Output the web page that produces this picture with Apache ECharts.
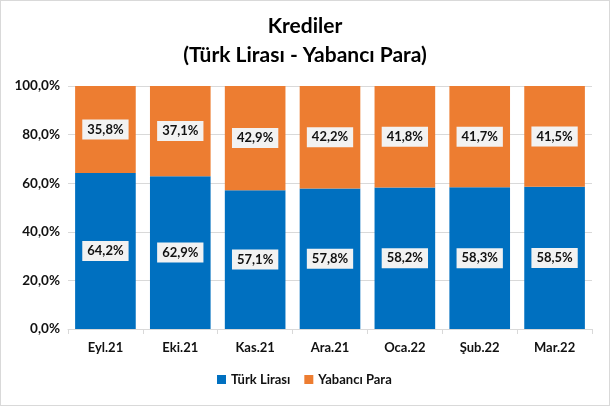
<!DOCTYPE html>
<html>
<head>
<meta charset="utf-8">
<script src="https://cdn.jsdelivr.net/npm/echarts@6/dist/echarts.min.js"></script>
<style>
    html, body { margin: 0; padding: 0; background: #fff; }
    #chart { width: 608px; height: 404px; border: 1px solid #d9d9d9; }
</style>
</head>
<body>
<div id="chart"></div>
<script>
    // aylar
    const months = ['Eyl.21', 'Eki.21', 'Kas.21', 'Ara.21', 'Oca.22', 'Şub.22', 'Mar.22'];
    // paylar (%)
    const turkLirasi = [64.2, 62.9, 57.1, 57.8, 58.2, 58.3, 58.5];
    const yabanciPara = [35.8, 37.1, 42.9, 42.2, 41.8, 41.7, 41.5];

    const fmt = v => v.toFixed(1).replace('.', ',');
    const font = 'Lato, "Open Sans", sans-serif';

    const labelStyle = {
        show: true,
        position: 'inside',
        formatter: p => fmt(p.value) + '%',
        color: '#111',
        fontFamily: font,
        fontWeight: 'bold',
        fontSize: 13,
        backgroundColor: '#f2f2f2',
        padding: [4, 5, 3, 5]
    };

    let chart = echarts.init(document.getElementById('chart'));
    let option = {
        animation: false,
        title: {
            text: 'Krediler\n(Türk Lirası - Yabancı Para)',
            left: 'center',
            top: 6,
            textStyle: {
                fontFamily: font,
                fontWeight: 'bold',
                fontSize: 21,
                lineHeight: 29,
                color: '#000'
            }
        },
        legend: {
            bottom: 14,
            left: 211,
            itemWidth: 9,
            itemHeight: 9,
            itemGap: 14,
            icon: 'rect',
            textStyle: { fontFamily: font, fontSize: 13, fontWeight: 'bold', color: '#111' },
            data: ['Türk Lirası', 'Yabancı Para']
        },
        grid: { left: 67, right: 17, top: 85, bottom: 76 },
        xAxis: {
            type: 'category',
            data: months,
            axisLine: { lineStyle: { color: '#d9d9d9' } },
            axisTick: { show: true, length: 5, lineStyle: { color: '#d9d9d9' } },
            axisLabel: { fontFamily: font, fontSize: 13, fontWeight: 'bold', color: '#111', margin: 12 }
        },
        yAxis: {
            type: 'value',
            min: 0,
            max: 100,
            interval: 20,
            axisLine: { show: false },
            axisTick: { show: false },
            splitLine: { lineStyle: { color: '#d9d9d9' } },
            axisLabel: {
                fontFamily: font, fontSize: 13.5, fontWeight: 'bold', color: '#111', margin: 8,
                formatter: v => fmt(v) + '%'
            }
        },
        series: [
            {
                name: 'Türk Lirası',
                type: 'bar',
                stack: 'toplam',
                barWidth: '81%',
                itemStyle: { color: '#0070C0' },
                label: labelStyle,
                data: turkLirasi
            },
            {
                name: 'Yabancı Para',
                type: 'bar',
                stack: 'toplam',
                barWidth: '81%',
                itemStyle: { color: '#ED7D31' },
                label: labelStyle,
                data: yabanciPara
            }
        ]
    };
    chart.setOption(option);
</script>
</body>
</html>
